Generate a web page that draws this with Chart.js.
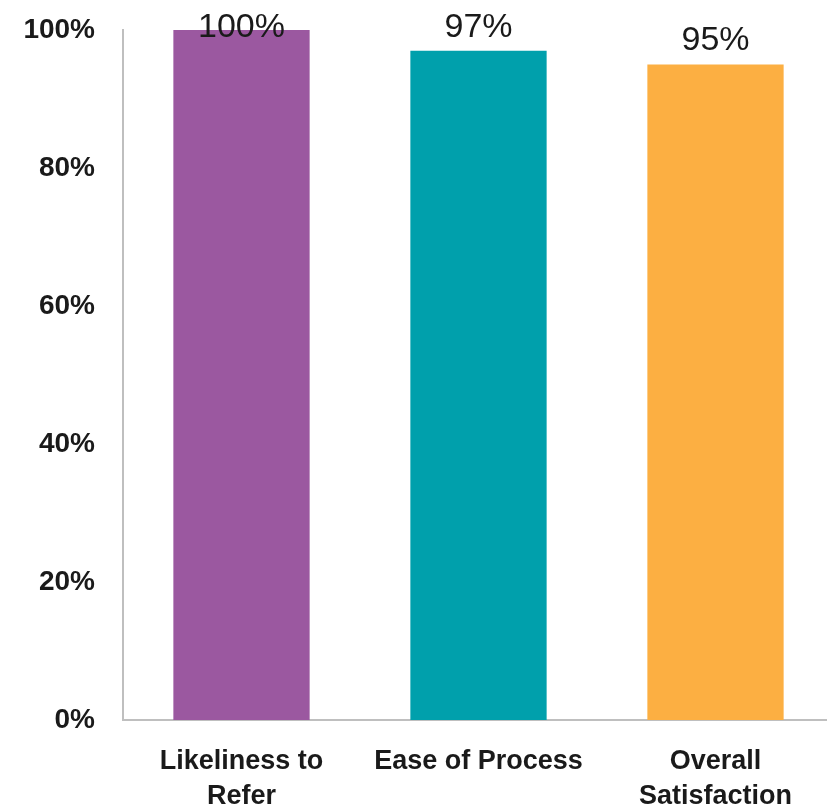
<!DOCTYPE html>
<html>
<head>
<meta charset="utf-8">
<script src="https://cdn.jsdelivr.net/npm/chart.js@4.4.1/dist/chart.umd.min.js"></script>
<style>
  html, body { margin: 0; padding: 0; background: #fff; overflow: hidden; }
  #wrap { width: 834px; height: 812px; }
</style>
</head>
<body>
<div id="wrap"><canvas id="barChart"></canvas></div>
<script>
var categories = [['Likeliness to', 'Refer'], 'Ease of Process', ['Overall', 'Satisfaction']];
var values = [100, 97, 95];
var barColors = ['#9B58A0', '#00A0AC', '#FCAF42'];
var yTicks = [0, 20, 40, 60, 80, 100];

// draws the % labels above each bar
var valueLabels = {
    id: 'valueLabels',
    afterDatasetsDraw: function (chart) {
        var ctx = chart.ctx;
        var meta = chart.getDatasetMeta(0);
        ctx.save();
        ctx.font = '34px "Liberation Sans", Arial, sans-serif';
        ctx.fillStyle = '#1a1a1a';
        ctx.textAlign = 'center';
        ctx.textBaseline = 'alphabetic';
        meta.data.forEach(function (bar, i) {
            var y = Math.max(37, bar.y - 15);
            ctx.fillText(values[i] + '%', bar.x, y);
        });
        ctx.restore();
    }
};

var ctxBar = document.getElementById('barChart').getContext('2d');
new Chart(ctxBar, {
    type: 'bar',
    data: {
        labels: categories,
        datasets: [{
            data: values,
            backgroundColor: barColors,
            barPercentage: 0.575,
            categoryPercentage: 1.0
        }]
    },
    options: {
        responsive: true,
        maintainAspectRatio: false,
        animation: false,
        layout: { padding: { top: 30, right: 0, left: 0, bottom: 0 } },
        plugins: {
            legend: { display: false },
            tooltip: { enabled: false }
        },
        scales: {
            x: {
                grid: { display: false, drawTicks: false },
                border: { display: true, color: '#BFBFBF', width: 2 },
                ticks: {
                    color: '#1a1a1a',
                    font: { family: '"Liberation Sans", Arial, sans-serif', size: 27, weight: 'bold', lineHeight: 1.3 },
                    padding: 24,
                    maxRotation: 0,
                    autoSkip: false
                },
                afterFit: function (scale) {
                    scale.height = 92;
                    scale.paddingLeft = 0;
                    scale.paddingRight = 0;
                }
            },
            y: {
                min: 0,
                max: 100,
                grid: { display: false, drawTicks: false },
                border: { display: true, color: '#BFBFBF', width: 2 },
                afterBuildTicks: function (scale) {
                    scale.ticks = yTicks.map(function (v) { return { value: v }; });
                },
                ticks: {
                    color: '#1a1a1a',
                    font: { family: '"Liberation Sans", Arial, sans-serif', size: 28, weight: 'bold' },
                    padding: 28,
                    callback: function (v) { return v + '%'; }
                },
                afterFit: function (scale) {
                    scale.width = 123;
                    scale.paddingTop = 0;
                    scale.paddingBottom = 0;
                }
            }
        }
    },
    plugins: [valueLabels]
});
</script>
</body>
</html>
